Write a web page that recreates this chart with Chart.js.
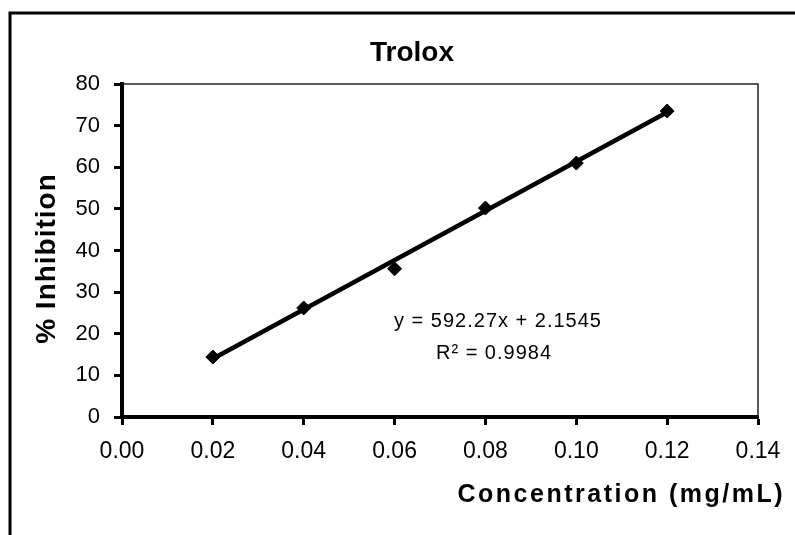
<!DOCTYPE html>
<html>
<head>
<meta charset="utf-8">
<title>Trolox</title>
<script src="https://cdn.jsdelivr.net/npm/chart.js@4"></script>
<style>
  html, body { margin: 0; padding: 0; background: #fff; }
  canvas { display: block; }
</style>
</head>
<body>
<canvas id="trolox-chart" width="795" height="535"></canvas>
<script>
// Data
const concentrations = [0.02, 0.04, 0.06, 0.08, 0.10, 0.12];
const inhibition = [14.4, 26.2, 35.6, 50.2, 61.0, 73.5];

// Linear trendline end points (y = 592.27x + 2.1545)
const trendX = [0.02, 0.12];
const trendY = [14.0, 73.2];

const xTickLabels = ['0.00', '0.02', '0.04', '0.06', '0.08', '0.10', '0.12', '0.14'];
const yTickLabels = ['0', '10', '20', '30', '40', '50', '60', '70', '80'];

const chartTitle = 'Trolox';
const xTitle = 'Concentration (mg/mL)';
const yTitle = '% Inhibition';
const equationLines = ['y = 592.27x + 2.1545', 'R\u00B2 = 0.9984'];

const FONT = '"Liberation Sans", Arial, sans-serif';

// Frame, plot box, titles and the trendline label
const decorations = {
    id: 'decorations',
    beforeDatasetsDraw(chart) {
        const { ctx, chartArea } = chart;
        ctx.save();
        // thin top / right edge of the plot box
        ctx.strokeStyle = '#222';
        ctx.lineWidth = 1.5;
        ctx.beginPath();
        ctx.moveTo(chartArea.left, chartArea.top);
        ctx.lineTo(chartArea.right, chartArea.top);
        ctx.lineTo(chartArea.right, chartArea.bottom);
        ctx.stroke();
        ctx.restore();
    },
    afterDraw(chart) {
        const { ctx, chartArea } = chart;
        ctx.save();

        // outer frame (only top and left edges are visible)
        ctx.strokeStyle = '#000';
        ctx.lineWidth = 3;
        ctx.beginPath();
        ctx.moveTo(10, 535);
        ctx.lineTo(10, 13);
        ctx.lineTo(795, 13);
        ctx.stroke();

        ctx.fillStyle = '#000';

        // title
        ctx.font = 'bold 28px ' + FONT;
        ctx.textAlign = 'center';
        ctx.textBaseline = 'middle';
        ctx.fillText(chartTitle, 412, 53);

        // x axis title, right aligned past the plot box
        ctx.font = 'bold 25px ' + FONT;
        ctx.letterSpacing = '2.5px';
        ctx.textAlign = 'right';
        ctx.fillText(xTitle, 785, 495);

        // y axis title
        ctx.save();
        ctx.translate(47, (chartArea.top + chartArea.bottom) / 2 + 8);
        ctx.rotate(-Math.PI / 2);
        ctx.font = 'bold 28px ' + FONT;
        ctx.letterSpacing = '1px';
        ctx.textAlign = 'center';
        ctx.fillText(yTitle, 0, 0);
        ctx.restore();

        // trendline equation
        ctx.font = '20px ' + FONT;
        ctx.letterSpacing = '1px';
        ctx.textAlign = 'center';
        ctx.fillText(equationLines[0], 498, 321);
        ctx.fillText(equationLines[1], 494, 353);

        ctx.restore();
    }
};

const ctx = document.getElementById('trolox-chart').getContext('2d');

new Chart(ctx, {
    type: 'scatter',
    data: {
        datasets: [
            {
                label: 'Trendline',
                data: trendX.map((x, i) => ({ x: x, y: trendY[i] })),
                showLine: true,
                borderColor: '#000',
                borderWidth: 4.5,
                pointRadius: 0,
                order: 2
            },
            {
                label: 'Trolox',
                data: concentrations.map((x, i) => ({ x: x, y: inhibition[i] })),
                pointStyle: 'rectRot',
                pointRadius: 7,
                backgroundColor: '#000',
                borderColor: '#000',
                borderWidth: 1,
                order: 1
            }
        ]
    },
    options: {
        responsive: false,
        animation: false,
        devicePixelRatio: 1,
        layout: {
            padding: { left: 0, top: 84, right: 37, bottom: 0 }
        },
        plugins: {
            legend: { display: false },
            tooltip: { enabled: false },
            title: { display: false }
        },
        scales: {
            x: {
                type: 'linear',
                min: 0,
                max: 0.14,
                afterFit: s => { s.height = 118; },
                afterBuildTicks: s => {
                    s.ticks = xTickLabels.map(t => ({ value: parseFloat(t) }));
                },
                border: { color: '#000', width: 4 },
                grid: {
                    drawOnChartArea: false,
                    drawTicks: true,
                    tickLength: 8,
                    tickWidth: 3,
                    tickColor: '#000'
                },
                ticks: {
                    color: '#000',
                    padding: 13,
                    maxRotation: 0,
                    font: { family: FONT, size: 23 },
                    callback: (v, i) => xTickLabels[i]
                }
            },
            y: {
                type: 'linear',
                min: 0,
                max: 80,
                afterFit: s => { s.width = 122; },
                afterBuildTicks: s => {
                    s.ticks = yTickLabels.map(t => ({ value: parseFloat(t) }));
                },
                border: { color: '#000', width: 4 },
                grid: {
                    drawOnChartArea: false,
                    drawTicks: true,
                    tickLength: 8,
                    tickWidth: 3,
                    tickColor: '#000'
                },
                ticks: {
                    color: '#000',
                    padding: 14,
                    font: { family: FONT, size: 22 },
                    callback: (v, i) => yTickLabels[i]
                }
            }
        }
    },
    plugins: [decorations]
});
</script>
</body>
</html>
